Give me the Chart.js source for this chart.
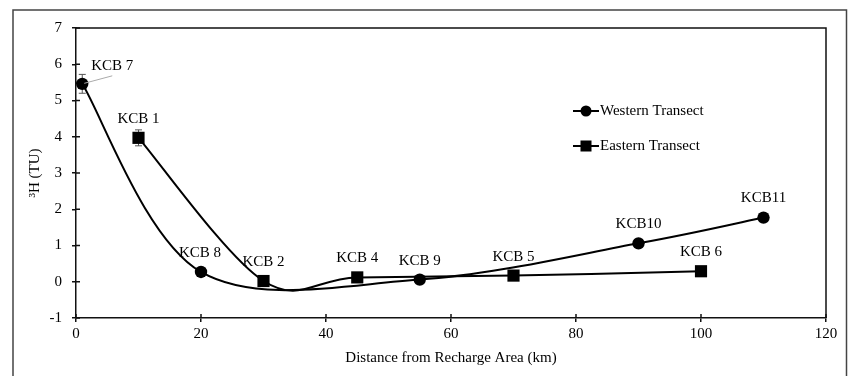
<!DOCTYPE html>
<html><head><meta charset="utf-8">
<script src="https://cdn.jsdelivr.net/npm/chart.js@4/dist/chart.umd.min.js"></script>
<style>html,body{margin:0;padding:0;background:#fff;} canvas{display:block;}</style>
</head><body>
<canvas id="c" width="852" height="376"></canvas>
<script>
// ---- data ----
const westernX = [1, 20, 55, 90, 110];
const westernY = [5.46, 0.27, 0.06, 1.06, 1.77];
const westernNames = ['KCB 7', 'KCB 8', 'KCB 9', 'KCB10', 'KCB11'];
const westernErr = [0.26, 0, 0, 0, 0];
const easternX = [10, 30, 45, 70, 100];
const easternY = [3.97, 0.02, 0.12, 0.17, 0.29];
const easternNames = ['KCB 1', 'KCB 2', 'KCB 4', 'KCB 5', 'KCB 6'];
const easternErr = [0.22, 0, 0, 0, 0];
const seriesNames = ['Western Transect', 'Eastern Transect'];
const xTitle = 'Distance from Recharge Area (km)';
const yTitle = '\u00B3H (TU)';

// ---- style (positions / offsets, not data) ----
const FONT = "'Liberation Serif', 'Times New Roman', serif";
const labelOffsets = [
  [[30, -18], [-1, -19], [0, -19], [0, -19], [0, -20]],
  [[0, -19], [0, -19], [0, -19], [0, -19], [0, -19]]
];
const leaderFor = [[true, false, false, false, false], [false, false, false, false, false]];
const legendPos = { x: 573, y: [111, 146], lineLen: 26 };

Chart.defaults.font.family = FONT;
Chart.defaults.font.size = 15;
Chart.defaults.color = '#000';

const toPts = (xs, ys) => xs.map((x, i) => ({ x: x, y: ys[i] }));

const excelSmooth = {
  id: 'excelSmooth',
  beforeDatasetDraw(chart, args) {
    const line = args.meta.dataset;
    const pts = args.meta.data;
    const n = pts.length;
    const P = i => pts[Math.max(0, Math.min(n - 1, i))];
    for (let i = 0; i < n - 1; i++) {
      const p0 = P(i - 1), p1 = P(i), p2 = P(i + 1), p3 = P(i + 2);
      const d12 = Math.hypot(p2.x - p1.x, p2.y - p1.y);
      const d02 = Math.hypot(p2.x - p0.x, p2.y - p0.y);
      const d13 = Math.hypot(p3.x - p1.x, p3.y - p1.y);
      let f0 = 1 / 6, f1 = 1 / 6;
      if (d02 / 6 > d12 / 2) f0 = d12 / (2 * d02);
      if (d13 / 6 > d12 / 2) f1 = d12 / (2 * d13);
      p1.cp2x = p1.x + f0 * (p2.x - p0.x);
      p1.cp2y = p1.y + f0 * (p2.y - p0.y);
      p2.cp1x = p2.x - f1 * (p3.x - p1.x);
      p2.cp1y = p2.y - f1 * (p3.y - p1.y);
    }
    line._pointsUpdated = true;
    line._path = undefined;
  }
};

const errorBars = {
  id: 'errorBars',
  beforeDatasetsDraw(chart) {
    const ctx = chart.ctx, ys = chart.scales.y;
    const errs = [westernErr, easternErr];
    ctx.save();
    ctx.strokeStyle = '#555';
    ctx.lineWidth = 1;
    chart.data.datasets.forEach((ds, di) => {
      const meta = chart.getDatasetMeta(di);
      meta.data.forEach((pt, i) => {
        const e = errs[di][i];
        if (!e) return;
        const v = ds.data[i].y;
        const top = ys.getPixelForValue(v + e), bot = ys.getPixelForValue(v - e);
        ctx.beginPath();
        ctx.moveTo(pt.x, top); ctx.lineTo(pt.x, bot);
        ctx.moveTo(pt.x - 3.5, top); ctx.lineTo(pt.x + 3.5, top);
        ctx.moveTo(pt.x - 3.5, bot); ctx.lineTo(pt.x + 3.5, bot);
        ctx.stroke();
      });
    });
    ctx.restore();
  }
};

const pointLabels = {
  id: 'pointLabels',
  afterDatasetsDraw(chart) {
    const ctx = chart.ctx;
    const names = [westernNames, easternNames];
    ctx.save();
    ctx.font = '15px ' + FONT;
    ctx.fillStyle = '#000';
    ctx.textAlign = 'center';
    ctx.textBaseline = 'middle';
    chart.data.datasets.forEach((ds, di) => {
      const meta = chart.getDatasetMeta(di);
      meta.data.forEach((pt, i) => {
        const [dx, dy] = labelOffsets[di][i];
        const tx = pt.x + dx, ty = pt.y + dy;
        ctx.fillText(names[di][i], tx, ty);
        if (leaderFor[di][i]) {
          ctx.save();
          ctx.strokeStyle = '#aaa';
          ctx.lineWidth = 1;
          ctx.beginPath();
          ctx.moveTo(pt.x + 2, pt.y - 0.5);
          ctx.lineTo(tx, ty + 10);
          ctx.stroke();
          ctx.restore();
        }
      });
    });
    ctx.restore();
  }
};

const frame = {
  id: 'frame',
  afterDraw(chart) {
    const ctx = chart.ctx, a = chart.chartArea;
    const xs = chart.scales.x, ys = chart.scales.y;
    ctx.save();
    ctx.strokeStyle = '#111';
    ctx.lineWidth = 1.5;
    ctx.beginPath();
    ctx.moveTo(a.left, a.top); ctx.lineTo(a.right, a.top); ctx.lineTo(a.right, a.bottom);
    ctx.stroke();
    // inner half of the crossing tick marks
    ctx.beginPath();
    ys.ticks.forEach(t => {
      const p = ys.getPixelForValue(t.value);
      ctx.moveTo(a.left, p); ctx.lineTo(a.left + 4, p);
    });
    xs.ticks.forEach(t => {
      const p = xs.getPixelForValue(t.value);
      ctx.moveTo(p, a.bottom); ctx.lineTo(p, a.bottom - 4);
    });
    ctx.stroke();
    // outer border
    ctx.strokeStyle = '#444';
    ctx.beginPath();
    ctx.moveTo(13, 390); ctx.lineTo(13, 10); ctx.lineTo(846.5, 10); ctx.lineTo(846.5, 390);
    ctx.stroke();
    // legend
    ctx.font = '15px ' + FONT;
    ctx.fillStyle = '#000';
    ctx.textAlign = 'left';
    ctx.textBaseline = 'middle';
    chart.data.datasets.forEach((ds, di) => {
      const y = legendPos.y[di], x0 = legendPos.x, x1 = x0 + legendPos.lineLen, xm = (x0 + x1) / 2;
      ctx.strokeStyle = '#000';
      ctx.lineWidth = 2;
      ctx.beginPath(); ctx.moveTo(x0, y); ctx.lineTo(x1, y); ctx.stroke();
      ctx.beginPath();
      if (di === 0) { ctx.arc(xm, y, 5.5, 0, Math.PI * 2); ctx.fill(); }
      else { ctx.fillRect(xm - 5.5, y - 5.5, 11, 11); }
      ctx.fillText(ds.label, x1 + 1, y + 0.5);
    });
    ctx.restore();
  }
};

new Chart(document.getElementById('c'), {
  type: 'line',
  data: {
    datasets: [
      {
        label: seriesNames[0],
        data: toPts(westernX, westernY),
        borderColor: '#000', backgroundColor: '#000', borderWidth: 2,
        pointStyle: 'circle', pointRadius: 6.2, pointBorderWidth: 0,
        tension: 0.4
      },
      {
        label: seriesNames[1],
        data: toPts(easternX, easternY),
        borderColor: '#000', backgroundColor: '#000', borderWidth: 2,
        pointStyle: 'rect', pointRadius: 8.6, pointBorderWidth: 0,
        tension: 0.4
      }
    ]
  },
  options: {
    responsive: false,
    animation: false,
    events: [],
    layout: { padding: { top: 28, right: 26, left: 0, bottom: 0 } },
    plugins: { legend: { display: false }, tooltip: { enabled: false } },
    scales: {
      x: {
        type: 'linear', min: 0, max: 120,
        ticks: { stepSize: 20, padding: 3, color: '#000', font: { size: 15 } },
        grid: { drawOnChartArea: false, drawTicks: true, tickLength: 4, color: '#111', lineWidth: 1.5 },
        border: { color: '#111', width: 1.5 },
        title: { display: true, text: xTitle, color: '#000', font: { size: 15 }, padding: { top: 0, bottom: 9 } },
        afterFit(s) { s.height = 58; }
      },
      y: {
        type: 'linear', min: -1, max: 7,
        ticks: { stepSize: 1, padding: 10, color: '#000', font: { size: 15 } },
        grid: { drawOnChartArea: false, drawTicks: true, tickLength: 4, color: '#111', lineWidth: 1.5 },
        border: { color: '#111', width: 1.5 },
        title: { display: true, text: yTitle, color: '#000', font: { size: 15 }, padding: { top: 26, bottom: 0 } },
        afterFit(s) { s.width = 76; }
      }
    }
  },
  plugins: [excelSmooth, errorBars, pointLabels, frame]
});
</script>
</body></html>
